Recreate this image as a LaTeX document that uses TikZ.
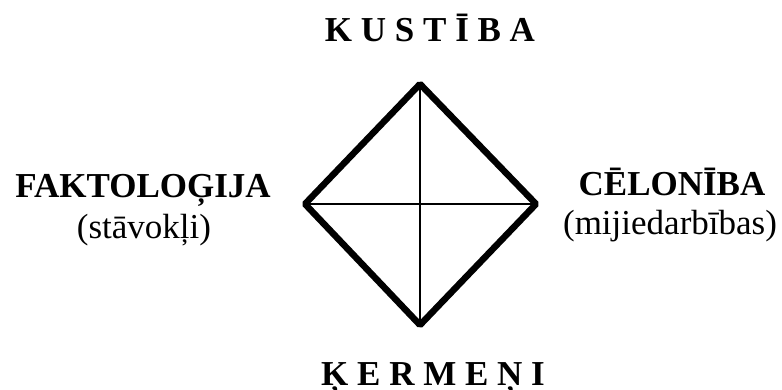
\documentclass[tikz,border=0pt]{standalone}
\usepackage{fontspec}
\setmainfont{Liberation Serif}
\begin{document}
\begin{tikzpicture}[x=1pt,y=-1pt,
  lbl/.style={inner sep=0pt,anchor=base,font=\fontsize{35}{40}\selectfont\bfseries},
  sub/.style={inner sep=0pt,anchor=base,font=\fontsize{35}{40}\selectfont},
  frame/.style={line width=6.5pt,line join=bevel},
  cross/.style={line width=1.6pt}]
\useasboundingbox (0,0) rectangle (782,389);
\coordinate (T) at (420,84);
\coordinate (L) at (305,204);
\coordinate (R) at (536,204);
\coordinate (B) at (420,325);
\draw[cross] (T) -- (B);
\draw[cross] (L) -- (R);
\draw[frame] (T) -- (R) -- (B) -- (L) -- cycle;
\node[lbl] (kus) at (430,41) {K U S T Ī B A};
\node[lbl] (ker) at (433,385) {Ķ E R M E Ņ I};
\node[lbl] (fak) at (143,197) {FAKTOLOĢIJA};
\node[sub] (sta) at (144,238) {(stāvokļi)};
\node[lbl] (cel) at (672,195) {CĒLONĪBA};
\node[sub] (mij) at (670,234) {(mijiedarbības)};
\end{tikzpicture}
\end{document}
